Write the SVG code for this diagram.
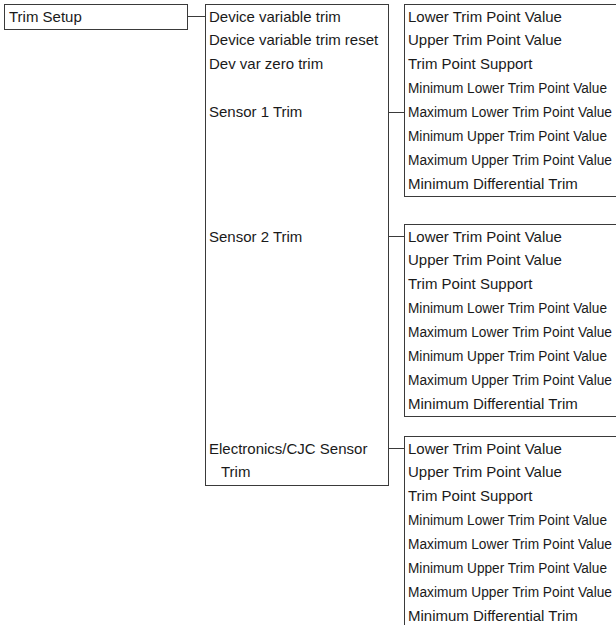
<svg xmlns="http://www.w3.org/2000/svg" width="616" height="625" viewBox="0 0 616 625">
<style>
.box{fill:#fff;stroke:#3a3a3a;stroke-width:1}
.ln{stroke:#3a3a3a;stroke-width:1;fill:none}
text{font-family:"Liberation Sans",Arial,sans-serif;font-size:15px;fill:#1a1a1a}
text.n{font-size:14px}
</style>
<rect width="616" height="625" fill="#fff"/>
<g id="connectors">
<line class="ln" x1="187.5" y1="16.5" x2="205.5" y2="16.5"/>
<line class="ln" x1="388.5" y1="112.5" x2="404.5" y2="112.5"/>
<line class="ln" x1="388.5" y1="236.5" x2="404.5" y2="236.5"/>
<line class="ln" x1="388.5" y1="448.5" x2="404.5" y2="448.5"/>
</g>
<g id="trim-setup">
<rect class="box" x="4.5" y="4.5" width="183" height="25"/>
<text x="9" y="22">Trim Setup</text>
</g>
<g id="trim-menu">
<rect class="box" x="205.5" y="4.5" width="183" height="481"/>
<text x="209" y="21.5">Device variable trim</text>
<text x="209" y="45.4">Device variable trim reset</text>
<text x="209" y="69.3">Dev var zero trim</text>
<text x="209" y="117.1">Sensor 1 Trim</text>
<text x="209" y="241.5">Sensor 2 Trim</text>
<text x="209" y="453.5">Electronics/CJC Sensor</text>
<text x="221" y="477.4">Trim</text>
</g>
<g id="sensor1-trim">
<rect class="box" x="404.5" y="4.5" width="300" height="192"/>
<text x="408" y="21.5">Lower Trim Point Value</text>
<text x="408" y="45.4">Upper Trim Point Value</text>
<text x="408" y="69.3">Trim Point Support</text>
<text class="n" x="408" y="93.2" textLength="199" lengthAdjust="spacingAndGlyphs">Minimum Lower Trim Point Value</text>
<text class="n" x="408" y="117.1" textLength="204" lengthAdjust="spacingAndGlyphs">Maximum Lower Trim Point Value</text>
<text class="n" x="408" y="141" textLength="199" lengthAdjust="spacingAndGlyphs">Minimum Upper Trim Point Value</text>
<text class="n" x="408" y="164.9" textLength="204" lengthAdjust="spacingAndGlyphs">Maximum Upper Trim Point Value</text>
<text x="408" y="188.8">Minimum Differential Trim</text>
</g>
<g id="sensor2-trim">
<rect class="box" x="404.5" y="224.5" width="300" height="192"/>
<text x="408" y="241.5">Lower Trim Point Value</text>
<text x="408" y="265.4">Upper Trim Point Value</text>
<text x="408" y="289.3">Trim Point Support</text>
<text class="n" x="408" y="313.2" textLength="199" lengthAdjust="spacingAndGlyphs">Minimum Lower Trim Point Value</text>
<text class="n" x="408" y="337.1" textLength="204" lengthAdjust="spacingAndGlyphs">Maximum Lower Trim Point Value</text>
<text class="n" x="408" y="361" textLength="199" lengthAdjust="spacingAndGlyphs">Minimum Upper Trim Point Value</text>
<text class="n" x="408" y="384.9" textLength="204" lengthAdjust="spacingAndGlyphs">Maximum Upper Trim Point Value</text>
<text x="408" y="408.8">Minimum Differential Trim</text>
</g>
<g id="cjc-trim">
<rect class="box" x="404.5" y="436.5" width="300" height="200"/>
<text x="408" y="453.5">Lower Trim Point Value</text>
<text x="408" y="477.4">Upper Trim Point Value</text>
<text x="408" y="501.3">Trim Point Support</text>
<text class="n" x="408" y="525.2" textLength="199" lengthAdjust="spacingAndGlyphs">Minimum Lower Trim Point Value</text>
<text class="n" x="408" y="549.1" textLength="204" lengthAdjust="spacingAndGlyphs">Maximum Lower Trim Point Value</text>
<text class="n" x="408" y="573" textLength="199" lengthAdjust="spacingAndGlyphs">Minimum Upper Trim Point Value</text>
<text class="n" x="408" y="596.9" textLength="204" lengthAdjust="spacingAndGlyphs">Maximum Upper Trim Point Value</text>
<text x="408" y="620.8">Minimum Differential Trim</text>
</g>
</svg>
